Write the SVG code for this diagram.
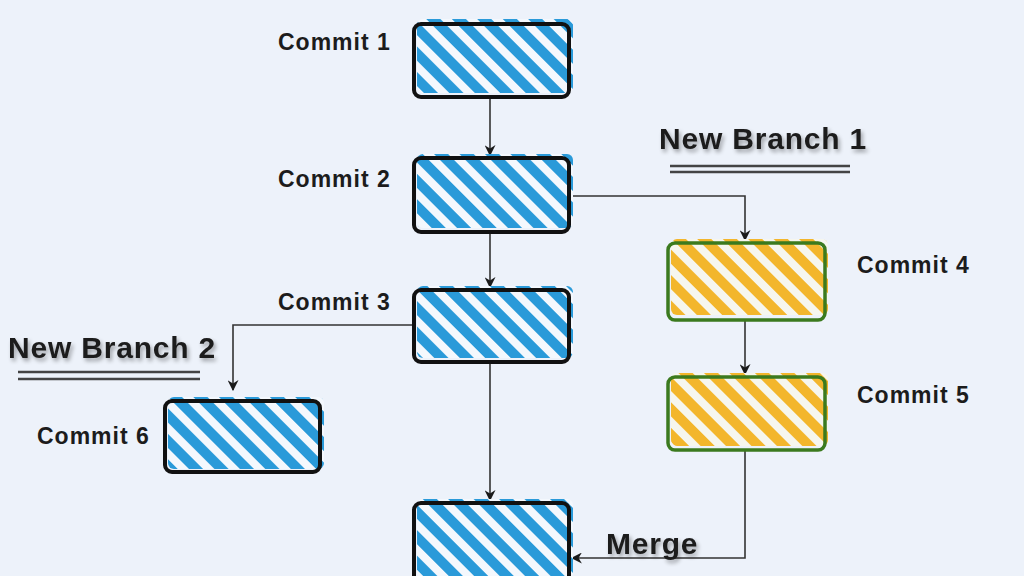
<svg xmlns="http://www.w3.org/2000/svg" width="1024" height="576" viewBox="0 0 1024 576">
<defs>
<pattern id="hb" width="18" height="18" patternUnits="userSpaceOnUse" patternTransform="rotate(-45)">
<rect width="18" height="18" fill="#f4f8fd"/>
<rect width="10" height="18" fill="#2a9ad9"/>
</pattern>
<pattern id="hy" width="18" height="18" patternUnits="userSpaceOnUse" patternTransform="rotate(-45)">
<rect width="18" height="18" fill="#f6f6ee"/>
<rect width="10" height="18" fill="#f3b62c"/>
</pattern>
<marker id="ah" viewBox="0 0 10 10" refX="9" refY="5" markerWidth="11" markerHeight="11" markerUnits="userSpaceOnUse" orient="auto">
<path d="M0,0 L10,5 L0,10 L3,5 Z" fill="#1a1a1a"/>
</marker>
<filter id="sh" x="-10%" y="-30%" width="120%" height="160%">
<feGaussianBlur in="SourceAlpha" stdDeviation="2"/>
<feOffset dx="2" dy="3" result="b"/>
<feComponentTransfer><feFuncA type="linear" slope="0.35"/></feComponentTransfer>
<feMerge><feMergeNode/><feMergeNode in="SourceGraphic"/></feMerge>
</filter>
</defs>
<style>
.lbl{font-family:"Liberation Sans",Arial,sans-serif;font-weight:bold;font-size:23px;letter-spacing:1px;fill:#1c1c1c}
.big{font-family:"Liberation Sans",Arial,sans-serif;font-weight:bold;font-size:30px;letter-spacing:0.8px;fill:#1c1c1c}
.bb{stroke:#111;stroke-width:4;fill:none}
.gb{stroke:#3b7a1e;stroke-width:3.5;fill:none}
.fb{fill:url(#hb)}
.fy{fill:url(#hy)}
.con{stroke:#333;stroke-width:1.6;fill:none}
.ul{stroke:#444;stroke-width:2.5}
</style>
<rect width="1024" height="576" fill="#edf2fa"/>

<g id="connectors">
<path class="con" d="M490,97 V155" marker-end="url(#ah)"/>
<path class="con" d="M490,232 V287" marker-end="url(#ah)"/>
<path class="con" d="M490,362 V500" marker-end="url(#ah)"/>
<path class="con" d="M570,196 H745 V240" marker-end="url(#ah)"/>
<path class="con" d="M745,320 V374" marker-end="url(#ah)"/>
<path class="con" d="M745,450 V558 H572" marker-end="url(#ah)"/>
<path class="con" d="M413,325 H233 V390" marker-end="url(#ah)"/>
</g>

<g id="commit1">
<rect class="fb" x="417" y="19" width="156" height="74" rx="6"/>
<rect class="bb" x="414" y="24" width="155" height="73" rx="7"/>
<text class="lbl" x="278" y="50">Commit 1</text>
</g>
<g id="commit2">
<rect class="fb" x="417" y="154" width="156" height="74" rx="6"/>
<rect class="bb" x="414" y="158" width="155" height="74" rx="7"/>
<text class="lbl" x="278" y="187">Commit 2</text>
</g>
<g id="commit3">
<rect class="fb" x="417" y="286" width="156" height="72" rx="6"/>
<rect class="bb" x="414" y="290" width="155" height="72" rx="7"/>
<text class="lbl" x="278" y="310">Commit 3</text>
</g>
<g id="merge-commit">
<rect class="fb" x="417" y="499" width="156" height="80" rx="6"/>
<rect class="bb" x="414" y="503" width="155" height="80" rx="7"/>
</g>
<g id="commit4">
<rect class="fy" x="671" y="239" width="157" height="76" rx="6"/>
<rect class="gb" x="668" y="243" width="157" height="77" rx="7"/>
<text class="lbl" x="857" y="273">Commit 4</text>
</g>
<g id="commit5">
<rect class="fy" x="671" y="373" width="157" height="73" rx="6"/>
<rect class="gb" x="668" y="377" width="157" height="73" rx="7"/>
<text class="lbl" x="857" y="403">Commit 5</text>
</g>
<g id="commit6">
<rect class="fb" x="168" y="397" width="156" height="72" rx="6"/>
<rect class="bb" x="165" y="401" width="155" height="71" rx="7"/>
<text class="lbl" x="37" y="444">Commit 6</text>
</g>

<g id="new-branch-1">
<text class="big" x="659" y="149" filter="url(#sh)">New Branch 1</text>
<line class="ul" x1="670" y1="166" x2="850" y2="166"/>
<line class="ul" x1="670" y1="172" x2="850" y2="172"/>
</g>
<g id="new-branch-2">
<text class="big" x="8" y="358" filter="url(#sh)">New Branch 2</text>
<line class="ul" x1="18" y1="372" x2="200" y2="372"/>
<line class="ul" x1="18" y1="379" x2="200" y2="379"/>
</g>
<g id="merge-label">
<text class="big" x="606" y="554" filter="url(#sh)">Merge</text>
</g>
</svg>
